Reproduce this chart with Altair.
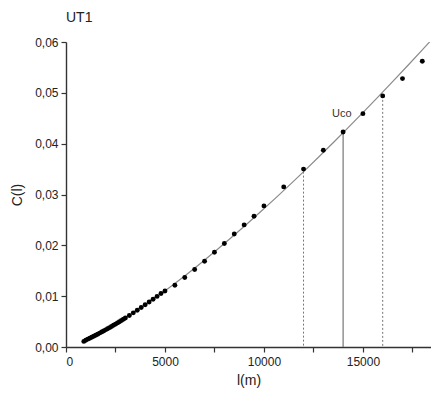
import altair as alt
import pandas as pd

# Measured points: length l (m) and C(l)
length_m = [
    900, 1000, 1100, 1200, 1300, 1400, 1500, 1600, 1700, 1800, 1900,
    2000, 2100, 2200, 2300, 2400, 2500, 2600, 2700, 2800, 2900,
    3000, 3200, 3400, 3600, 3800, 4000, 4200, 4400, 4600, 4800, 5000,
    5500, 6000, 6500, 7000, 7500, 8000, 8500, 9000, 9500, 10000,
    11000, 12000, 13000, 14000, 15000, 16000, 17000, 18000,
]
c_value = [
    0.00110, 0.00133, 0.00154, 0.00173, 0.00193, 0.00212, 0.00232, 0.00252,
    0.00273, 0.00294, 0.00315, 0.00337, 0.00359, 0.00381, 0.00404, 0.00427,
    0.00450, 0.00474, 0.00498, 0.00522, 0.00546,
    0.00571, 0.00621, 0.00672, 0.00724, 0.00776, 0.00830, 0.00884, 0.00940,
    0.00995, 0.01052, 0.01102,
    0.01215, 0.01366, 0.01524, 0.01687, 0.01864, 0.02035, 0.02224, 0.02402,
    0.02573, 0.02776,
    0.0315, 0.0350, 0.0387, 0.0423, 0.0459, 0.0494, 0.0528, 0.0562,
]

# Vertical markers down to the axis
marker_l = [12000, 14000, 16000]
marker_top = [0.0345, 0.0423, 0.0494]
marker_solid = [False, True, False]

label_text = ["Uco"]
label_l = [13930]
label_c = [0.0458]

pts = pd.DataFrame({"L": length_m, "C": c_value})
markers = pd.DataFrame({"L": marker_l, "top": marker_top, "solid": marker_solid})
labels = pd.DataFrame({"t": label_text, "L": label_l, "C": label_c})

FONT = "Liberation Sans"
X_MAX = 18440

x_scale = alt.Scale(domain=[0, X_MAX], nice=False, zero=True)
y_scale = alt.Scale(domain=[0, 0.06], nice=False)

x_axis = alt.Axis(
    title="l(m)",
    values=[0, 2500, 5000, 7500, 10000, 12500, 15000, 17500],
    labelExpr="datum.value % 5000 === 0 ? format(datum.value, 'd') : ''",
    tickSize=5,
    grid=False,
    domainColor="#333333",
    domainWidth=1.4,
    tickColor="#333333",
    tickWidth=1.2,
    labelFontSize=12,
    labelColor="#222222",
    labelFont=FONT,
    labelPadding=4,
    titleFont=FONT,
    titleFontSize=14,
    titleFontWeight="normal",
    titleColor="#222222",
    titlePadding=6,
)

y_axis = alt.Axis(
    title="C(l)",
    values=[round(i * 0.005, 3) for i in range(13)],
    labelExpr="round(datum.value * 1000) % 10 === 0 ? replace(format(datum.value, '.2f'), '.', ',') : ''",
    tickSize=5,
    grid=False,
    domainColor="#333333",
    domainWidth=1.4,
    tickColor="#333333",
    tickWidth=1.2,
    labelFontSize=12,
    labelColor="#222222",
    labelFont=FONT,
    labelPadding=3,
    titleFont=FONT,
    titleFontSize=14,
    titleFontWeight="normal",
    titleColor="#222222",
    titlePadding=10,
)

base = alt.Chart(pts)

fit = base.transform_regression(
    "L", "C", method="pow", extent=[900, 19500]
).mark_line(color="#8a8a8a", strokeWidth=1.2, clip=True).encode(
    x=alt.X("L:Q", scale=x_scale, axis=x_axis),
    y=alt.Y("C:Q", scale=y_scale, axis=y_axis),
)

dots = base.mark_circle(color="black", size=24, opacity=1).encode(
    x=alt.X("L:Q", scale=x_scale),
    y=alt.Y("C:Q", scale=y_scale),
)

dashed = alt.Chart(markers).transform_filter("!datum.solid").mark_rule(
    color="#777777", strokeWidth=1, strokeDash=[2, 2]
).encode(
    x=alt.X("L:Q", scale=x_scale),
    y=alt.Y("top:Q", scale=y_scale),
    y2=alt.datum(0),
)

solid = alt.Chart(markers).transform_filter("datum.solid").mark_rule(
    color="#777777", strokeWidth=1.2
).encode(
    x=alt.X("L:Q", scale=x_scale),
    y=alt.Y("top:Q", scale=y_scale),
    y2=alt.datum(0),
)

text = alt.Chart(labels).mark_text(
    font=FONT, fontSize=11, color="#333333", align="center", baseline="middle"
).encode(
    x=alt.X("L:Q", scale=x_scale),
    y=alt.Y("C:Q", scale=y_scale),
    text="t:N",
)

chart = alt.layer(dashed, solid, fit, dots, text).properties(
    width=365,
    height=305,
    background="white",
    title=alt.TitleParams(
        "UT1", anchor="start", frame="group", font=FONT, fontSize=14,
        fontWeight="normal", color="#222222", offset=11,
    ),
    autosize=alt.AutoSizeParams(type="none"),
    padding={"left": 66, "top": 42, "right": 0, "bottom": 58},
).configure_view(strokeWidth=0, stroke=None)

chart.save("out.html", embed_options={"renderer": "svg", "actions": False})
